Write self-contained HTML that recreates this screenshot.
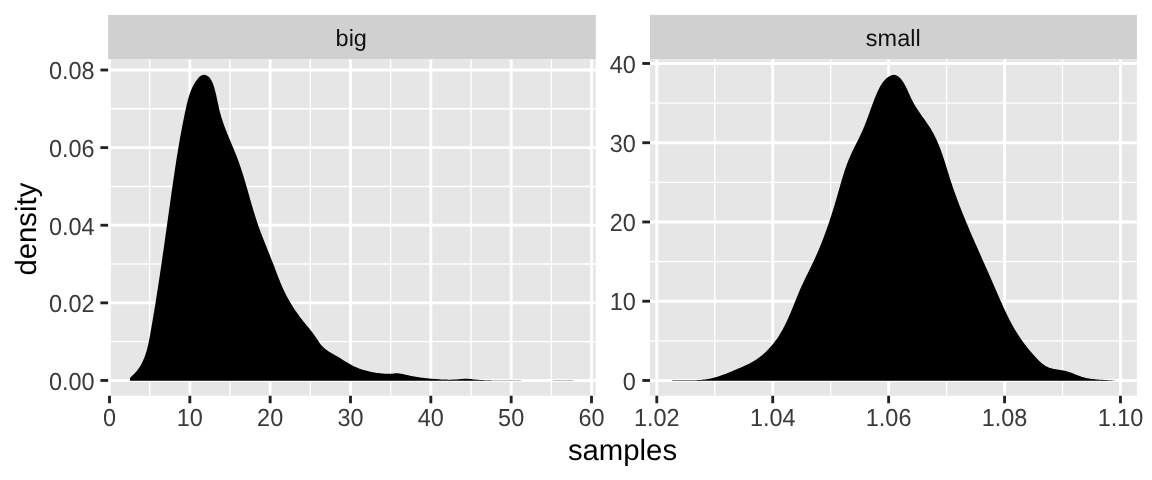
<!DOCTYPE html>
<html lang="en"><head><meta charset="utf-8"><title>density</title>
<style>html,body{margin:0;padding:0;background:#fff;overflow:hidden}svg text{white-space:pre}</style></head>
<body>
<svg width="1152" height="480" viewBox="0 0 1152 480" text-rendering="geometricPrecision" style="display:block;font-family:'Liberation Sans',Arial,Helvetica,sans-serif">
<rect width="1152" height="480" fill="#fff"/>
<rect x="108.1" y="14.9" width="487.70" height="44.50" fill="#D0D0D0"/>
<rect x="108.1" y="59.4" width="487.70" height="336.35" fill="#E6E6E6"/>
<line x1="108.1" x2="595.8" y1="341.66" y2="341.66" stroke="#fff" stroke-width="1.42"/>
<line x1="108.1" x2="595.8" y1="264.04" y2="264.04" stroke="#fff" stroke-width="1.42"/>
<line x1="108.1" x2="595.8" y1="186.42" y2="186.42" stroke="#fff" stroke-width="1.42"/>
<line x1="108.1" x2="595.8" y1="108.80" y2="108.80" stroke="#fff" stroke-width="1.42"/>
<line y1="59.4" y2="395.75" x1="149.67" x2="149.67" stroke="#fff" stroke-width="1.42"/>
<line y1="59.4" y2="395.75" x1="230.00" x2="230.00" stroke="#fff" stroke-width="1.42"/>
<line y1="59.4" y2="395.75" x1="310.33" x2="310.33" stroke="#fff" stroke-width="1.42"/>
<line y1="59.4" y2="395.75" x1="390.67" x2="390.67" stroke="#fff" stroke-width="1.42"/>
<line y1="59.4" y2="395.75" x1="471.00" x2="471.00" stroke="#fff" stroke-width="1.42"/>
<line y1="59.4" y2="395.75" x1="551.33" x2="551.33" stroke="#fff" stroke-width="1.42"/>
<line x1="108.1" x2="595.8" y1="380.47" y2="380.47" stroke="#fff" stroke-width="2.85"/>
<line x1="108.1" x2="595.8" y1="302.85" y2="302.85" stroke="#fff" stroke-width="2.85"/>
<line x1="108.1" x2="595.8" y1="225.23" y2="225.23" stroke="#fff" stroke-width="2.85"/>
<line x1="108.1" x2="595.8" y1="147.61" y2="147.61" stroke="#fff" stroke-width="2.85"/>
<line x1="108.1" x2="595.8" y1="69.99" y2="69.99" stroke="#fff" stroke-width="2.85"/>
<line y1="59.4" y2="395.75" x1="109.50" x2="109.50" stroke="#fff" stroke-width="2.85"/>
<line y1="59.4" y2="395.75" x1="189.83" x2="189.83" stroke="#fff" stroke-width="2.85"/>
<line y1="59.4" y2="395.75" x1="270.17" x2="270.17" stroke="#fff" stroke-width="2.85"/>
<line y1="59.4" y2="395.75" x1="350.50" x2="350.50" stroke="#fff" stroke-width="2.85"/>
<line y1="59.4" y2="395.75" x1="430.83" x2="430.83" stroke="#fff" stroke-width="2.85"/>
<line y1="59.4" y2="395.75" x1="511.17" x2="511.17" stroke="#fff" stroke-width="2.85"/>
<line y1="59.4" y2="395.75" x1="591.50" x2="591.50" stroke="#fff" stroke-width="2.85"/>
<path d="M130.00 380.80L130.02 377.65L131.24 376.65L132.42 375.62L133.53 374.56L134.60 373.47L135.62 372.36L136.59 371.22L137.51 370.06L138.38 368.87L139.21 367.66L140.00 366.42L140.75 365.17L141.46 363.89L142.13 362.59L142.77 361.28L143.37 359.95L143.94 358.60L144.48 357.23L144.99 355.85L145.47 354.46L145.93 353.05L146.36 351.63L146.77 350.20L147.16 348.76L147.53 347.31L147.88 345.85L148.22 344.39L148.54 342.91L148.85 341.43L149.14 339.95L149.43 338.46L149.71 336.97L149.98 335.48L150.25 333.99L150.52 332.49L150.78 331.00L151.04 329.50L151.31 328.01L151.56 326.52L151.82 325.03L152.08 323.54L152.34 322.05L152.59 320.56L152.84 319.07L153.09 317.58L153.34 316.09L153.59 314.60L153.84 313.11L154.09 311.63L154.33 310.14L154.57 308.65L154.82 307.17L155.06 305.68L155.30 304.20L155.54 302.71L155.78 301.23L156.01 299.74L156.25 298.26L156.49 296.78L156.72 295.29L156.95 293.81L157.18 292.33L157.42 290.85L157.65 289.36L157.87 287.88L158.10 286.40L158.33 284.92L158.56 283.44L158.78 281.96L159.01 280.48L159.23 279.00L159.45 277.52L159.68 276.04L159.90 274.56L160.12 273.08L160.34 271.60L160.56 270.12L160.78 268.64L161.00 267.16L161.21 265.68L161.43 264.20L161.65 262.73L161.86 261.25L162.08 259.77L162.29 258.29L162.51 256.81L162.72 255.33L162.93 253.85L163.14 252.37L163.36 250.90L163.57 249.42L163.78 247.94L163.99 246.46L164.20 244.98L164.41 243.50L164.62 242.02L164.83 240.54L165.04 239.06L165.25 237.58L165.46 236.10L165.67 234.62L165.87 233.14L166.08 231.66L166.29 230.18L166.50 228.70L166.71 227.22L166.91 225.74L167.12 224.26L167.33 222.78L167.53 221.29L167.74 219.81L167.95 218.33L168.16 216.85L168.36 215.36L168.57 213.88L168.78 212.40L168.98 210.91L169.19 209.43L169.40 207.94L169.61 206.46L169.81 204.97L170.02 203.49L170.23 202.00L170.44 200.51L170.65 199.03L170.86 197.54L171.07 196.05L171.28 194.56L171.49 193.07L171.70 191.59L171.91 190.10L172.12 188.61L172.33 187.12L172.55 185.63L172.76 184.14L172.98 182.65L173.19 181.16L173.41 179.67L173.63 178.18L173.85 176.70L174.07 175.21L174.29 173.72L174.51 172.23L174.73 170.74L174.96 169.25L175.18 167.76L175.41 166.28L175.64 164.79L175.87 163.30L176.10 161.82L176.34 160.33L176.57 158.84L176.81 157.36L177.04 155.87L177.28 154.39L177.53 152.90L177.77 151.42L178.01 149.94L178.26 148.45L178.51 146.97L178.76 145.49L179.01 144.01L179.27 142.53L179.53 141.05L179.79 139.57L180.05 138.09L180.31 136.61L180.58 135.14L180.85 133.66L181.12 132.19L181.39 130.71L181.67 129.24L181.95 127.77L182.23 126.30L182.51 124.83L182.80 123.36L183.09 121.89L183.38 120.42L183.67 118.96L183.97 117.49L184.27 116.03L184.58 114.57L184.88 113.10L185.19 111.64L185.51 110.19L185.82 108.73L186.14 107.27L186.47 105.82L186.80 104.37L187.14 102.92L187.49 101.47L187.86 100.03L188.25 98.59L188.66 97.16L189.10 95.74L189.56 94.32L190.05 92.91L190.57 91.51L191.13 90.12L191.72 88.73L192.36 87.36L193.04 86.00L193.76 84.65L194.53 83.31L195.36 81.99L196.24 80.68L197.17 79.39L198.17 78.16L199.23 77.06L200.37 76.12L201.58 75.40L202.86 74.97L204.23 74.86L205.66 75.11L207.07 75.68L208.36 76.53L209.50 77.62L210.48 78.88L211.34 80.24L212.07 81.65L212.71 83.06L213.26 84.47L213.74 85.89L214.18 87.32L214.59 88.75L214.98 90.19L215.35 91.64L215.70 93.09L216.04 94.55L216.37 96.01L216.69 97.48L217.01 98.95L217.32 100.42L217.63 101.89L217.94 103.36L218.26 104.84L218.58 106.31L218.91 107.77L219.25 109.24L219.60 110.70L219.97 112.15L220.35 113.60L220.75 115.05L221.17 116.48L221.61 117.92L222.06 119.34L222.52 120.77L223.00 122.18L223.49 123.60L223.99 125.01L224.50 126.41L225.03 127.82L225.56 129.22L226.10 130.61L226.65 132.01L227.21 133.40L227.77 134.79L228.34 136.18L228.91 137.57L229.48 138.95L230.06 140.34L230.64 141.72L231.22 143.11L231.80 144.49L232.38 145.88L232.96 147.26L233.53 148.65L234.11 150.04L234.68 151.43L235.24 152.82L235.80 154.21L236.35 155.60L236.89 157.00L237.42 158.40L237.95 159.80L238.47 161.21L238.98 162.62L239.48 164.03L239.97 165.45L240.45 166.86L240.93 168.28L241.40 169.71L241.86 171.13L242.32 172.56L242.77 173.99L243.22 175.42L243.66 176.85L244.10 178.28L244.53 179.72L244.96 181.15L245.38 182.59L245.80 184.03L246.22 185.47L246.64 186.91L247.05 188.35L247.47 189.79L247.88 191.23L248.29 192.68L248.70 194.12L249.11 195.56L249.52 197.00L249.93 198.44L250.34 199.89L250.75 201.33L251.17 202.77L251.59 204.21L252.00 205.65L252.43 207.08L252.85 208.52L253.28 209.96L253.71 211.39L254.15 212.82L254.59 214.25L255.04 215.68L255.49 217.11L255.94 218.54L256.41 219.96L256.88 221.38L257.35 222.80L257.84 224.21L258.33 225.63L258.83 227.04L259.33 228.45L259.84 229.85L260.36 231.26L260.88 232.66L261.41 234.06L261.95 235.46L262.48 236.85L263.02 238.25L263.57 239.64L264.12 241.04L264.67 242.43L265.22 243.82L265.78 245.21L266.33 246.61L266.89 248.00L267.45 249.39L268.01 250.78L268.57 252.17L269.13 253.56L269.68 254.95L270.24 256.34L270.80 257.74L271.35 259.13L271.90 260.53L272.44 261.92L272.99 263.32L273.53 264.72L274.06 266.12L274.60 267.52L275.13 268.92L275.66 270.33L276.19 271.73L276.72 273.13L277.26 274.54L277.79 275.94L278.33 277.33L278.88 278.73L279.43 280.12L279.99 281.51L280.56 282.90L281.14 284.28L281.73 285.66L282.33 287.03L282.94 288.40L283.56 289.77L284.20 291.12L284.86 292.47L285.53 293.82L286.21 295.15L286.90 296.48L287.61 297.81L288.34 299.12L289.07 300.43L289.82 301.73L290.59 303.03L291.36 304.31L292.15 305.59L292.95 306.86L293.76 308.13L294.58 309.38L295.42 310.63L296.27 311.86L297.12 313.09L297.99 314.31L298.87 315.52L299.76 316.73L300.67 317.92L301.58 319.10L302.50 320.28L303.43 321.44L304.37 322.60L305.31 323.75L306.26 324.90L307.21 326.05L308.16 327.20L309.10 328.35L310.05 329.51L310.98 330.68L311.91 331.86L312.82 333.06L313.73 334.26L314.62 335.49L315.49 336.73L316.34 338.00L317.18 339.29L318.01 340.58L318.85 341.87L319.71 343.13L320.61 344.34L321.56 345.50L322.57 346.58L323.63 347.61L324.74 348.57L325.90 349.49L327.09 350.36L328.32 351.20L329.58 352.00L330.86 352.78L332.15 353.54L333.46 354.28L334.78 355.03L336.09 355.77L337.41 356.52L338.71 357.28L340.00 358.06L341.27 358.86L342.54 359.67L343.81 360.47L345.08 361.28L346.35 362.07L347.62 362.86L348.91 363.62L350.21 364.35L351.53 365.06L352.86 365.73L354.21 366.38L355.57 366.99L356.95 367.58L358.34 368.13L359.75 368.66L361.16 369.16L362.59 369.63L364.02 370.07L365.47 370.49L366.92 370.87L368.38 371.24L369.84 371.57L371.31 371.88L372.79 372.17L374.27 372.43L375.75 372.67L377.24 372.89L378.73 373.09L380.21 373.27L381.70 373.43L383.19 373.58L384.68 373.69L386.17 373.78L387.66 373.83L389.16 373.83L390.65 373.79L392.15 373.69L393.66 373.53L395.16 373.37L396.66 373.28L398.14 373.30L399.62 373.44L401.10 373.66L402.56 373.95L404.03 374.28L405.49 374.63L406.96 374.98L408.43 375.31L409.90 375.63L411.37 375.93L412.84 376.21L414.32 376.48L415.80 376.74L417.27 376.99L418.76 377.22L420.24 377.44L421.72 377.64L423.21 377.84L424.69 378.02L426.18 378.19L427.67 378.35L429.16 378.50L430.65 378.65L432.15 378.78L433.64 378.90L435.14 379.01L436.63 379.12L438.13 379.21L439.63 379.30L441.13 379.38L442.63 379.45L444.13 379.52L445.63 379.57L447.13 379.60L448.63 379.63L450.13 379.63L451.63 379.62L453.13 379.59L454.63 379.53L456.13 379.46L457.63 379.36L459.13 379.23L460.63 379.09L462.13 378.95L463.62 378.84L465.12 378.76L466.61 378.76L468.10 378.83L469.59 378.95L471.09 379.11L472.58 379.27L474.07 379.43L475.56 379.58L477.06 379.71L478.55 379.82L480.05 379.93L481.54 380.02L483.04 380.10L484.54 380.16L486.03 380.22L487.53 380.27L489.03 380.31L490.53 380.35L492.03 380.38L493.53 380.40L495.03 380.41L496.53 380.43L498.03 380.44L499.53 380.44L501.03 380.45L502.53 380.45L504.03 380.45L505.53 380.46L507.03 380.46L508.53 380.47L510.03 380.48L511.53 380.49L513.03 380.51L514.53 380.53L516.03 380.55L517.53 380.57L519.03 380.60L520.53 380.62L522.03 380.65L523.53 380.68L525.03 380.70L526.53 380.73L528.03 380.75L529.53 380.78L531.03 380.80L532.53 380.80L534.03 380.80L535.52 380.80L537.02 380.80L538.52 380.80L540.02 380.80L541.52 380.80L543.03 380.80L544.53 380.80L546.03 380.79L547.53 380.76L549.03 380.73L550.53 380.69L552.03 380.65L553.53 380.61L555.03 380.57L556.53 380.53L558.03 380.49L559.53 380.46L561.03 380.44L562.53 380.42L564.02 380.41L565.52 380.41L567.02 380.42L568.52 380.45L570.01 380.48L571.51 380.53L573.00 380.60L574.01 380.66L574.01 380.8Z" fill="#000"/>
<line x1="100.40" x2="108.1" y1="380.47" y2="380.47" stroke="#222222" stroke-width="2.85"/>
<line x1="100.40" x2="108.1" y1="302.85" y2="302.85" stroke="#222222" stroke-width="2.85"/>
<line x1="100.40" x2="108.1" y1="225.23" y2="225.23" stroke="#222222" stroke-width="2.85"/>
<line x1="100.40" x2="108.1" y1="147.61" y2="147.61" stroke="#222222" stroke-width="2.85"/>
<line x1="100.40" x2="108.1" y1="69.99" y2="69.99" stroke="#222222" stroke-width="2.85"/>
<line y1="395.75" y2="403.25" x1="109.50" x2="109.50" stroke="#222222" stroke-width="2.85"/>
<line y1="395.75" y2="403.25" x1="189.83" x2="189.83" stroke="#222222" stroke-width="2.85"/>
<line y1="395.75" y2="403.25" x1="270.17" x2="270.17" stroke="#222222" stroke-width="2.85"/>
<line y1="395.75" y2="403.25" x1="350.50" x2="350.50" stroke="#222222" stroke-width="2.85"/>
<line y1="395.75" y2="403.25" x1="430.83" x2="430.83" stroke="#222222" stroke-width="2.85"/>
<line y1="395.75" y2="403.25" x1="511.17" x2="511.17" stroke="#222222" stroke-width="2.85"/>
<line y1="395.75" y2="403.25" x1="591.50" x2="591.50" stroke="#222222" stroke-width="2.85"/>
<text x="351.25" y="45.5" text-anchor="middle" font-size="23.47" fill="#111111">big</text>
<rect x="650.0" y="14.9" width="486.90" height="44.50" fill="#D0D0D0"/>
<rect x="650.0" y="59.4" width="486.90" height="336.35" fill="#E6E6E6"/>
<line x1="650.0" x2="1136.9" y1="340.85" y2="340.85" stroke="#fff" stroke-width="1.42"/>
<line x1="650.0" x2="1136.9" y1="261.60" y2="261.60" stroke="#fff" stroke-width="1.42"/>
<line x1="650.0" x2="1136.9" y1="182.35" y2="182.35" stroke="#fff" stroke-width="1.42"/>
<line x1="650.0" x2="1136.9" y1="103.10" y2="103.10" stroke="#fff" stroke-width="1.42"/>
<line y1="59.4" y2="395.75" x1="714.76" x2="714.76" stroke="#fff" stroke-width="1.42"/>
<line y1="59.4" y2="395.75" x1="830.68" x2="830.68" stroke="#fff" stroke-width="1.42"/>
<line y1="59.4" y2="395.75" x1="946.60" x2="946.60" stroke="#fff" stroke-width="1.42"/>
<line y1="59.4" y2="395.75" x1="1062.52" x2="1062.52" stroke="#fff" stroke-width="1.42"/>
<line x1="650.0" x2="1136.9" y1="380.47" y2="380.47" stroke="#fff" stroke-width="2.85"/>
<line x1="650.0" x2="1136.9" y1="301.22" y2="301.22" stroke="#fff" stroke-width="2.85"/>
<line x1="650.0" x2="1136.9" y1="221.97" y2="221.97" stroke="#fff" stroke-width="2.85"/>
<line x1="650.0" x2="1136.9" y1="142.72" y2="142.72" stroke="#fff" stroke-width="2.85"/>
<line x1="650.0" x2="1136.9" y1="63.47" y2="63.47" stroke="#fff" stroke-width="2.85"/>
<line y1="59.4" y2="395.75" x1="656.80" x2="656.80" stroke="#fff" stroke-width="2.85"/>
<line y1="59.4" y2="395.75" x1="772.72" x2="772.72" stroke="#fff" stroke-width="2.85"/>
<line y1="59.4" y2="395.75" x1="888.64" x2="888.64" stroke="#fff" stroke-width="2.85"/>
<line y1="59.4" y2="395.75" x1="1004.56" x2="1004.56" stroke="#fff" stroke-width="2.85"/>
<line y1="59.4" y2="395.75" x1="1120.48" x2="1120.48" stroke="#fff" stroke-width="2.85"/>
<path d="M672.00 380.80L672.00 380.41L673.50 380.35L674.99 380.30L676.49 380.28L677.99 380.26L679.49 380.25L680.99 380.25L682.49 380.25L684.00 380.26L685.50 380.26L687.00 380.27L688.50 380.27L690.00 380.26L691.51 380.25L693.01 380.23L694.51 380.19L696.00 380.15L697.50 380.08L699.00 379.99L700.49 379.89L701.99 379.76L703.48 379.60L704.97 379.42L706.45 379.21L707.94 378.97L709.42 378.71L710.89 378.41L712.35 378.09L713.81 377.74L715.26 377.36L716.71 376.96L718.14 376.53L719.56 376.07L720.98 375.59L722.38 375.09L723.79 374.57L725.18 374.04L726.57 373.49L727.96 372.93L729.35 372.36L730.73 371.78L732.11 371.19L733.49 370.60L734.87 370.00L736.26 369.41L737.64 368.82L739.03 368.23L740.41 367.64L741.80 367.05L743.18 366.45L744.56 365.84L745.93 365.22L747.29 364.59L748.64 363.93L749.98 363.26L751.30 362.56L752.60 361.83L753.89 361.07L755.16 360.28L756.41 359.46L757.63 358.61L758.84 357.73L760.04 356.83L761.21 355.90L762.36 354.95L763.49 353.97L764.61 352.96L765.70 351.94L766.78 350.89L767.83 349.82L768.87 348.73L769.89 347.62L770.88 346.49L771.86 345.35L772.82 344.19L773.76 343.01L774.68 341.81L775.58 340.60L776.46 339.38L777.32 338.14L778.16 336.89L778.98 335.63L779.78 334.36L780.56 333.08L781.32 331.79L782.07 330.49L782.79 329.18L783.50 327.87L784.20 326.54L784.88 325.21L785.54 323.87L786.19 322.53L786.83 321.18L787.46 319.82L788.08 318.46L788.69 317.09L789.29 315.72L789.88 314.34L790.47 312.97L791.05 311.58L791.62 310.20L792.19 308.81L792.76 307.42L793.32 306.03L793.88 304.64L794.44 303.24L795.00 301.85L795.56 300.46L796.12 299.06L796.68 297.67L797.25 296.28L797.82 294.89L798.40 293.50L798.98 292.12L799.57 290.74L800.16 289.36L800.77 287.98L801.38 286.61L802.00 285.25L802.63 283.88L803.27 282.52L803.91 281.17L804.56 279.81L805.21 278.46L805.87 277.11L806.53 275.76L807.19 274.41L807.86 273.07L808.52 271.72L809.19 270.37L809.85 269.02L810.51 267.68L811.17 266.33L811.82 264.98L812.47 263.62L813.11 262.27L813.75 260.91L814.38 259.55L815.00 258.18L815.62 256.82L816.23 255.45L816.84 254.07L817.44 252.70L818.03 251.32L818.61 249.94L819.20 248.56L819.77 247.18L820.34 245.79L820.90 244.40L821.46 243.01L822.01 241.61L822.56 240.22L823.10 238.82L823.63 237.42L824.16 236.02L824.69 234.61L825.21 233.21L825.72 231.80L826.23 230.39L826.74 228.97L827.24 227.56L827.73 226.14L828.22 224.73L828.71 223.31L829.19 221.89L829.67 220.47L830.14 219.04L830.61 217.62L831.07 216.19L831.53 214.76L831.99 213.33L832.44 211.90L832.89 210.47L833.33 209.04L833.77 207.60L834.20 206.17L834.64 204.73L835.07 203.29L835.49 201.85L835.91 200.42L836.33 198.97L836.75 197.53L837.16 196.09L837.57 194.65L837.97 193.21L838.38 191.76L838.79 190.32L839.19 188.88L839.60 187.44L840.01 186.00L840.42 184.56L840.83 183.12L841.25 181.68L841.67 180.24L842.09 178.81L842.52 177.38L842.96 175.95L843.41 174.52L843.86 173.09L844.32 171.67L844.79 170.25L845.27 168.84L845.76 167.43L846.26 166.02L846.77 164.61L847.30 163.22L847.84 161.82L848.39 160.43L848.95 159.04L849.54 157.66L850.13 156.29L850.74 154.92L851.37 153.55L852.01 152.19L852.65 150.83L853.31 149.48L853.97 148.12L854.63 146.77L855.31 145.42L855.98 144.08L856.65 142.73L857.33 141.38L858.00 140.03L858.67 138.68L859.33 137.33L859.98 135.97L860.63 134.62L861.27 133.26L861.89 131.89L862.51 130.53L863.11 129.15L863.69 127.78L864.26 126.40L864.82 125.01L865.37 123.62L865.91 122.23L866.44 120.83L866.97 119.44L867.48 118.04L868.00 116.63L868.51 115.23L869.01 113.82L869.52 112.42L870.02 111.01L870.52 109.60L871.03 108.19L871.54 106.79L872.05 105.38L872.57 103.97L873.10 102.56L873.63 101.16L874.17 99.76L874.73 98.36L875.29 96.96L875.86 95.56L876.45 94.17L877.05 92.78L877.67 91.39L878.31 90.02L878.97 88.65L879.67 87.30L880.40 85.98L881.18 84.69L882.01 83.43L882.89 82.21L883.83 81.04L884.84 79.91L885.92 78.85L887.07 77.84L888.32 76.91L889.63 76.08L891.00 75.42L892.42 75.00L893.85 74.87L895.28 75.08L896.67 75.58L898.01 76.31L899.24 77.23L900.36 78.27L901.39 79.43L902.32 80.67L903.19 81.96L904.00 83.29L904.75 84.63L905.47 85.98L906.15 87.33L906.81 88.69L907.44 90.04L908.05 91.40L908.65 92.76L909.25 94.12L909.85 95.47L910.46 96.81L911.08 98.15L911.72 99.47L912.39 100.79L913.08 102.09L913.80 103.38L914.55 104.67L915.31 105.94L916.09 107.20L916.90 108.46L917.71 109.71L918.54 110.96L919.38 112.20L920.23 113.44L921.09 114.67L921.95 115.91L922.81 117.14L923.68 118.37L924.54 119.61L925.41 120.84L926.26 122.08L927.11 123.32L927.95 124.57L928.78 125.82L929.60 127.08L930.40 128.35L931.18 129.62L931.95 130.91L932.69 132.20L933.42 133.50L934.12 134.82L934.80 136.14L935.46 137.47L936.11 138.81L936.73 140.16L937.34 141.52L937.94 142.89L938.52 144.26L939.08 145.64L939.63 147.03L940.17 148.42L940.70 149.82L941.21 151.22L941.72 152.63L942.21 154.04L942.70 155.46L943.18 156.88L943.65 158.30L944.11 159.73L944.57 161.16L945.03 162.59L945.48 164.03L945.93 165.47L946.37 166.90L946.82 168.34L947.26 169.78L947.70 171.22L948.15 172.66L948.59 174.10L949.04 175.54L949.49 176.97L949.95 178.41L950.41 179.84L950.87 181.27L951.34 182.70L951.82 184.12L952.30 185.55L952.78 186.97L953.27 188.39L953.76 189.81L954.26 191.22L954.76 192.64L955.27 194.05L955.78 195.46L956.30 196.87L956.81 198.27L957.34 199.68L957.86 201.08L958.39 202.49L958.93 203.89L959.46 205.28L960.00 206.68L960.55 208.08L961.09 209.47L961.64 210.87L962.20 212.26L962.76 213.65L963.31 215.04L963.88 216.43L964.44 217.81L965.01 219.20L965.58 220.58L966.15 221.97L966.73 223.35L967.31 224.73L967.89 226.11L968.47 227.49L969.05 228.87L969.64 230.25L970.23 231.63L970.82 233.01L971.41 234.38L972.01 235.76L972.60 237.13L973.20 238.51L973.80 239.88L974.40 241.25L975.00 242.63L975.60 244.00L976.21 245.37L976.81 246.74L977.42 248.11L978.02 249.49L978.63 250.86L979.24 252.23L979.84 253.60L980.45 254.97L981.06 256.34L981.67 257.71L982.28 259.08L982.89 260.45L983.50 261.82L984.11 263.19L984.72 264.56L985.33 265.93L985.94 267.30L986.55 268.68L987.16 270.05L987.77 271.42L988.38 272.79L988.99 274.17L989.59 275.54L990.20 276.91L990.81 278.29L991.41 279.66L992.01 281.04L992.61 282.41L993.21 283.79L993.81 285.17L994.41 286.55L995.01 287.93L995.60 289.31L996.20 290.69L996.79 292.07L997.39 293.45L997.99 294.83L998.58 296.21L999.18 297.59L999.78 298.96L1000.38 300.34L1000.99 301.71L1001.60 303.08L1002.21 304.46L1002.83 305.82L1003.45 307.19L1004.07 308.55L1004.70 309.91L1005.34 311.27L1005.98 312.62L1006.63 313.97L1007.28 315.31L1007.94 316.66L1008.61 317.99L1009.29 319.32L1009.97 320.65L1010.67 321.97L1011.37 323.29L1012.08 324.60L1012.80 325.91L1013.54 327.21L1014.28 328.50L1015.03 329.79L1015.80 331.07L1016.58 332.34L1017.37 333.61L1018.17 334.87L1018.99 336.12L1019.81 337.36L1020.65 338.60L1021.51 339.83L1022.38 341.05L1023.26 342.26L1024.15 343.47L1025.05 344.66L1025.97 345.86L1026.90 347.04L1027.84 348.22L1028.79 349.39L1029.76 350.55L1030.73 351.70L1031.72 352.85L1032.73 353.99L1033.74 355.12L1034.76 356.25L1035.80 357.37L1036.85 358.48L1037.91 359.58L1038.99 360.65L1040.08 361.70L1041.21 362.70L1042.36 363.66L1043.53 364.56L1044.75 365.40L1045.99 366.16L1047.28 366.83L1048.61 367.42L1049.98 367.92L1051.39 368.35L1052.82 368.71L1054.28 369.03L1055.76 369.31L1057.26 369.56L1058.76 369.79L1060.27 370.02L1061.78 370.26L1063.28 370.52L1064.77 370.81L1066.25 371.14L1067.71 371.53L1069.14 371.98L1070.55 372.48L1071.95 373.01L1073.34 373.58L1074.72 374.15L1076.10 374.73L1077.48 375.30L1078.87 375.84L1080.28 376.34L1081.69 376.80L1083.12 377.21L1084.57 377.59L1086.03 377.92L1087.49 378.22L1088.97 378.48L1090.45 378.72L1091.95 378.93L1093.45 379.11L1094.95 379.27L1096.46 379.41L1097.97 379.53L1099.48 379.64L1100.99 379.73L1102.50 379.82L1104.01 379.90L1105.52 379.98L1107.02 380.06L1108.52 380.14L1110.01 380.22L1111.49 380.31L1112.97 380.41L1114.43 380.52L1114.97 380.57L1114.97 380.8Z" fill="#000"/>
<line x1="642.30" x2="650.0" y1="380.47" y2="380.47" stroke="#222222" stroke-width="2.85"/>
<line x1="642.30" x2="650.0" y1="301.22" y2="301.22" stroke="#222222" stroke-width="2.85"/>
<line x1="642.30" x2="650.0" y1="221.97" y2="221.97" stroke="#222222" stroke-width="2.85"/>
<line x1="642.30" x2="650.0" y1="142.72" y2="142.72" stroke="#222222" stroke-width="2.85"/>
<line x1="642.30" x2="650.0" y1="63.47" y2="63.47" stroke="#222222" stroke-width="2.85"/>
<line y1="395.75" y2="403.25" x1="656.80" x2="656.80" stroke="#222222" stroke-width="2.85"/>
<line y1="395.75" y2="403.25" x1="772.72" x2="772.72" stroke="#222222" stroke-width="2.85"/>
<line y1="395.75" y2="403.25" x1="888.64" x2="888.64" stroke="#222222" stroke-width="2.85"/>
<line y1="395.75" y2="403.25" x1="1004.56" x2="1004.56" stroke="#222222" stroke-width="2.85"/>
<line y1="395.75" y2="403.25" x1="1120.48" x2="1120.48" stroke="#222222" stroke-width="2.85"/>
<text x="893.25" y="45.5" text-anchor="middle" font-size="23.47" fill="#111111">small</text>
<text transform="translate(94.6,389.82) scale(1,1.05)" text-anchor="end" font-size="23.47" fill="#3A3A3A">0.00</text>
<text transform="translate(94.6,312.20) scale(1,1.05)" text-anchor="end" font-size="23.47" fill="#3A3A3A">0.02</text>
<text transform="translate(94.6,234.58) scale(1,1.05)" text-anchor="end" font-size="23.47" fill="#3A3A3A">0.04</text>
<text transform="translate(94.6,156.96) scale(1,1.05)" text-anchor="end" font-size="23.47" fill="#3A3A3A">0.06</text>
<text transform="translate(94.6,79.34) scale(1,1.05)" text-anchor="end" font-size="23.47" fill="#3A3A3A">0.08</text>
<text transform="translate(635.8,389.67) scale(1,1.05)" text-anchor="end" font-size="23.47" fill="#3A3A3A">0</text>
<text transform="translate(635.8,310.42) scale(1,1.05)" text-anchor="end" font-size="23.47" fill="#3A3A3A">10</text>
<text transform="translate(635.8,231.17) scale(1,1.05)" text-anchor="end" font-size="23.47" fill="#3A3A3A">20</text>
<text transform="translate(635.8,151.92) scale(1,1.05)" text-anchor="end" font-size="23.47" fill="#3A3A3A">30</text>
<text transform="translate(635.8,72.67) scale(1,1.05)" text-anchor="end" font-size="23.47" fill="#3A3A3A">40</text>
<text transform="translate(109.50,426.2) scale(1,1.05)" text-anchor="middle" font-size="23.47" fill="#3A3A3A">0</text>
<text transform="translate(189.83,426.2) scale(1,1.05)" text-anchor="middle" font-size="23.47" fill="#3A3A3A">10</text>
<text transform="translate(270.17,426.2) scale(1,1.05)" text-anchor="middle" font-size="23.47" fill="#3A3A3A">20</text>
<text transform="translate(350.50,426.2) scale(1,1.05)" text-anchor="middle" font-size="23.47" fill="#3A3A3A">30</text>
<text transform="translate(430.83,426.2) scale(1,1.05)" text-anchor="middle" font-size="23.47" fill="#3A3A3A">40</text>
<text transform="translate(511.17,426.2) scale(1,1.05)" text-anchor="middle" font-size="23.47" fill="#3A3A3A">50</text>
<text transform="translate(591.50,426.2) scale(1,1.05)" text-anchor="middle" font-size="23.47" fill="#3A3A3A">60</text>
<text transform="translate(656.80,426.2) scale(1,1.05)" text-anchor="middle" font-size="23.47" fill="#3A3A3A">1.02</text>
<text transform="translate(772.72,426.2) scale(1,1.05)" text-anchor="middle" font-size="23.47" fill="#3A3A3A">1.04</text>
<text transform="translate(888.64,426.2) scale(1,1.05)" text-anchor="middle" font-size="23.47" fill="#3A3A3A">1.06</text>
<text transform="translate(1004.56,426.2) scale(1,1.05)" text-anchor="middle" font-size="23.47" fill="#3A3A3A">1.08</text>
<text transform="translate(1120.48,426.2) scale(1,1.05)" text-anchor="middle" font-size="23.47" fill="#3A3A3A">1.10</text>
<text x="622.5" y="459.6" text-anchor="middle" font-size="29.33" fill="#000">samples</text>
<text transform="translate(35.6,229.1) rotate(-90)" text-anchor="middle" font-size="29.33" fill="#000">density</text>
</svg>
</body></html>
